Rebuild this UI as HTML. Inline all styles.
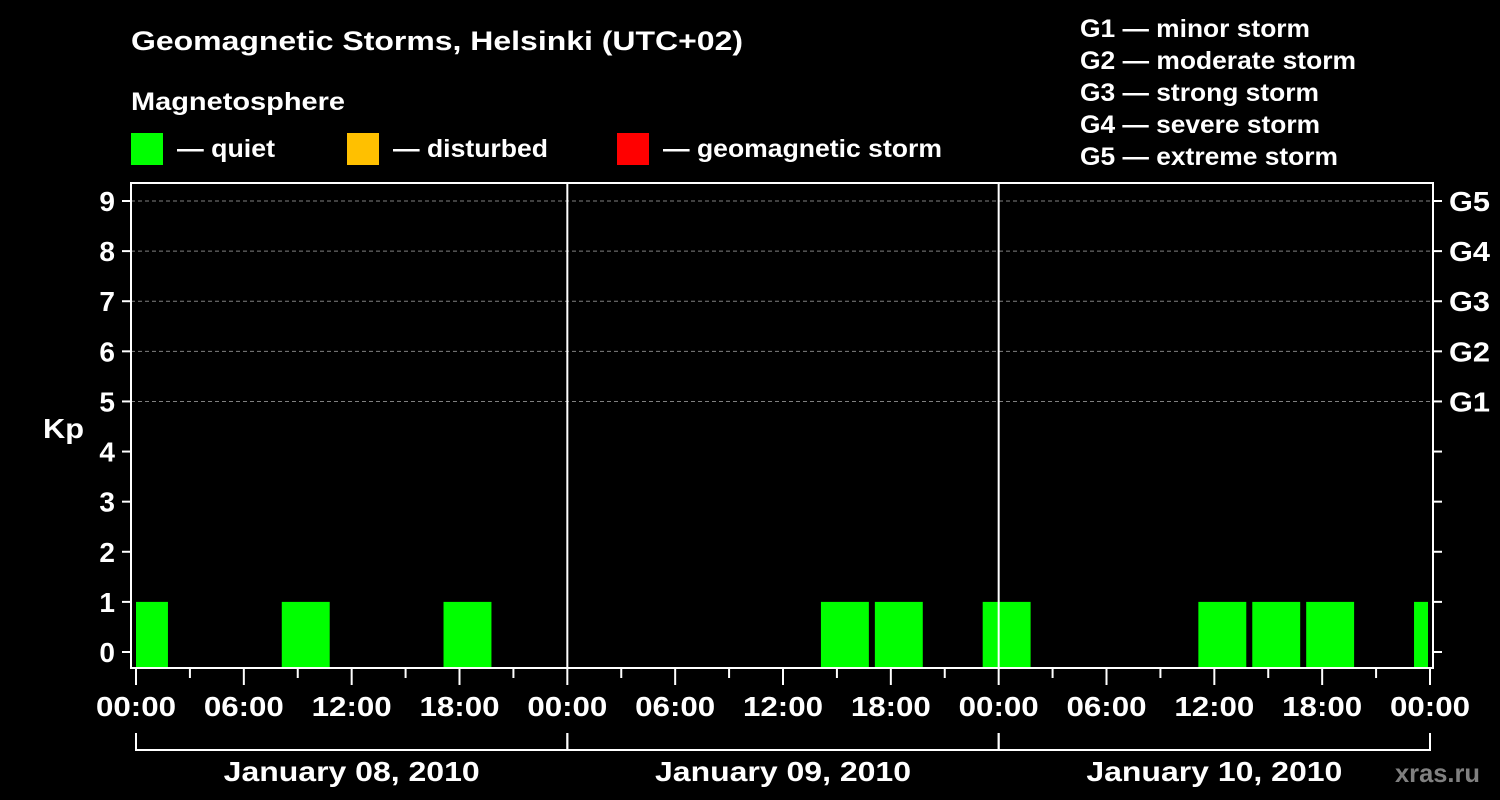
<!DOCTYPE html>
<html><head><meta charset="utf-8"><style>
html,body{margin:0;padding:0;background:#000;}
svg{display:block;font-family:"Liberation Sans",Arial,sans-serif;font-weight:bold;}
</style></head><body>
<svg id="chart" width="1500" height="800" viewBox="0 0 1500 800">
<rect x="0" y="0" width="1500" height="800" fill="#000"/>
<text x="131" y="50" fill="#fff" font-size="27" textLength="612" lengthAdjust="spacingAndGlyphs">Geomagnetic Storms, Helsinki (UTC+02)</text>
<text x="131" y="110" fill="#fff" font-size="25" textLength="214" lengthAdjust="spacingAndGlyphs">Magnetosphere</text>
<g><rect x="131" y="133" width="32" height="32" fill="#00ff00"/><text x="177" y="157" fill="#fff" font-size="25" textLength="98" lengthAdjust="spacingAndGlyphs">— quiet</text></g>
<g><rect x="347" y="133" width="32" height="32" fill="#ffc000"/><text x="393" y="157" fill="#fff" font-size="25" textLength="155" lengthAdjust="spacingAndGlyphs">— disturbed</text></g>
<g><rect x="617" y="133" width="32" height="32" fill="#ff0000"/><text x="663" y="157" fill="#fff" font-size="25" textLength="279" lengthAdjust="spacingAndGlyphs">— geomagnetic storm</text></g>
<g fill="#fff" font-size="25" lengthAdjust="spacingAndGlyphs">
<text x="1080" y="37" textLength="230" lengthAdjust="spacingAndGlyphs">G1 — minor storm</text>
<text x="1080" y="69" textLength="276" lengthAdjust="spacingAndGlyphs">G2 — moderate storm</text>
<text x="1080" y="101" textLength="239" lengthAdjust="spacingAndGlyphs">G3 — strong storm</text>
<text x="1080" y="133" textLength="240" lengthAdjust="spacingAndGlyphs">G4 — severe storm</text>
<text x="1080" y="165" textLength="258" lengthAdjust="spacingAndGlyphs">G5 — extreme storm</text>
</g>
<text x="43" y="438" fill="#fff" font-size="28" textLength="41" lengthAdjust="spacingAndGlyphs">Kp</text>
<text x="1395" y="782" fill="#808080" font-size="26" textLength="85" lengthAdjust="spacingAndGlyphs">xras.ru</text>
<g id="grid"></g>
<g id="bars"></g>
<g id="axes"></g>
</svg>
<script>
// Data: 3-hour Kp blocks; start hour offset from Jan 08 00:00 local time
const blockStartHours = [-1, 8, 17, 38, 41, 47, 59, 62, 65, 71];
const kpValues = [1, 1, 1, 1, 1, 1, 1, 1, 1, 1];
const dayLabels = ["January 08, 2010", "January 09, 2010", "January 10, 2010"];
const hourTickLabels = ["00:00", "06:00", "12:00", "18:00"];
const kpTicks = [0,1,2,3,4,5,6,7,8,9];
const stormLabels = ["G1","G2","G3","G4","G5"];

const NS = "http://www.w3.org/2000/svg";
const X0 = 136, PX_PER_H = (1430 - 136) / 72;
const Y0 = 652, PX_PER_KP = (652 - 201) / 9;
const FL = 131, FR = 1433, FT = 183, FB = 668;
const xs = h => X0 + h * PX_PER_H;
const ys = k => Y0 - k * PX_PER_KP;
function mk(tag, attrs, parent) { const e = document.createElementNS(NS, tag); for (const k in attrs) e.setAttribute(k, attrs[k]); parent.appendChild(e); return e; }
const grid = document.getElementById('grid'), bars = document.getElementById('bars'), axes = document.getElementById('axes');

kpTicks.forEach(k => {
  if (k >= 5) {
    const g = mk('line', {x1: FL, x2: FR, y1: ys(k), y2: ys(k), stroke: '#808080', 'stroke-dasharray': '4,3', 'stroke-width': 1}, grid);
    
    
  }
  const t = mk('line', {x1: FL - 9, x2: FL, y1: ys(k), y2: ys(k), stroke: '#fff', 'stroke-width': 2}, axes);
  
  
  const t2 = mk('line', {x1: FR, x2: FR + 9, y1: ys(k), y2: ys(k), stroke: '#fff', 'stroke-width': 2}, axes);
  
  
  const l = mk('text', {x: FL - 16, y: ys(k) + 10, fill: '#fff', 'font-size': 28, 'text-anchor': 'end'}, axes);
  l.textContent = k;
  
  
});
stormLabels.forEach((s, i) => {
  const l = mk('text', {x: 1449, y: ys(5 + i) + 10, fill: '#fff', 'font-size': 28, textLength: 41, lengthAdjust: 'spacingAndGlyphs'}, axes);
  l.textContent = s;
  
  
});

blockStartHours.forEach((h, i) => {
  const k = kpValues[i];
  let x1 = Math.max(xs(h) + 2, X0), x2 = Math.min(xs(h + 3) - 4, 1428);
  if (x2 <= x1) return;
  const col = k >= 5 ? '#ff0000' : (k >= 4 ? '#ffc000' : '#00ff00');
  const r = mk('rect', {x: x1, y: ys(k), width: x2 - x1, height: FB - ys(k), fill: col}, bars);
  
  
});

const fr = mk('rect', {x: FL, y: FT, width: FR - FL, height: FB - FT, fill: 'none', stroke: '#fff', 'stroke-width': 2}, axes);


[1, 2].forEach(d => {
  const v = mk('line', {x1: xs(24 * d), x2: xs(24 * d), y1: FT, y2: FB, stroke: '#fff', 'stroke-width': 2}, axes);
  
  
});
for (let h = 0; h <= 72; h += 3) {
  const major = h % 6 === 0;
  const t = mk('line', {x1: xs(h), x2: xs(h), y1: FB, y2: FB + (major ? 17 : 10), stroke: '#fff', 'stroke-width': 2}, axes);
  
  
  if (major) {
    const l = mk('text', {x: xs(h), y: 716, fill: '#fff', 'font-size': 28, 'text-anchor': 'middle', textLength: 80, lengthAdjust: 'spacingAndGlyphs'}, axes);
    l.textContent = hourTickLabels[(h / 6) % 4];
    
    
  }
}
dayLabels.forEach((d, i) => {
  const a = xs(24 * i), b = xs(24 * (i + 1));
  const p = mk('path', {d: `M${a},733 V750 H${b} V733`, fill: 'none', stroke: '#fff', 'stroke-width': 2}, axes);
  
  
  const l = mk('text', {x: (a + b) / 2, y: 781, fill: '#fff', 'font-size': 28, 'text-anchor': 'middle', textLength: 256, lengthAdjust: 'spacingAndGlyphs'}, axes);
  l.textContent = d;
  
  
});
</script>
</body></html>
